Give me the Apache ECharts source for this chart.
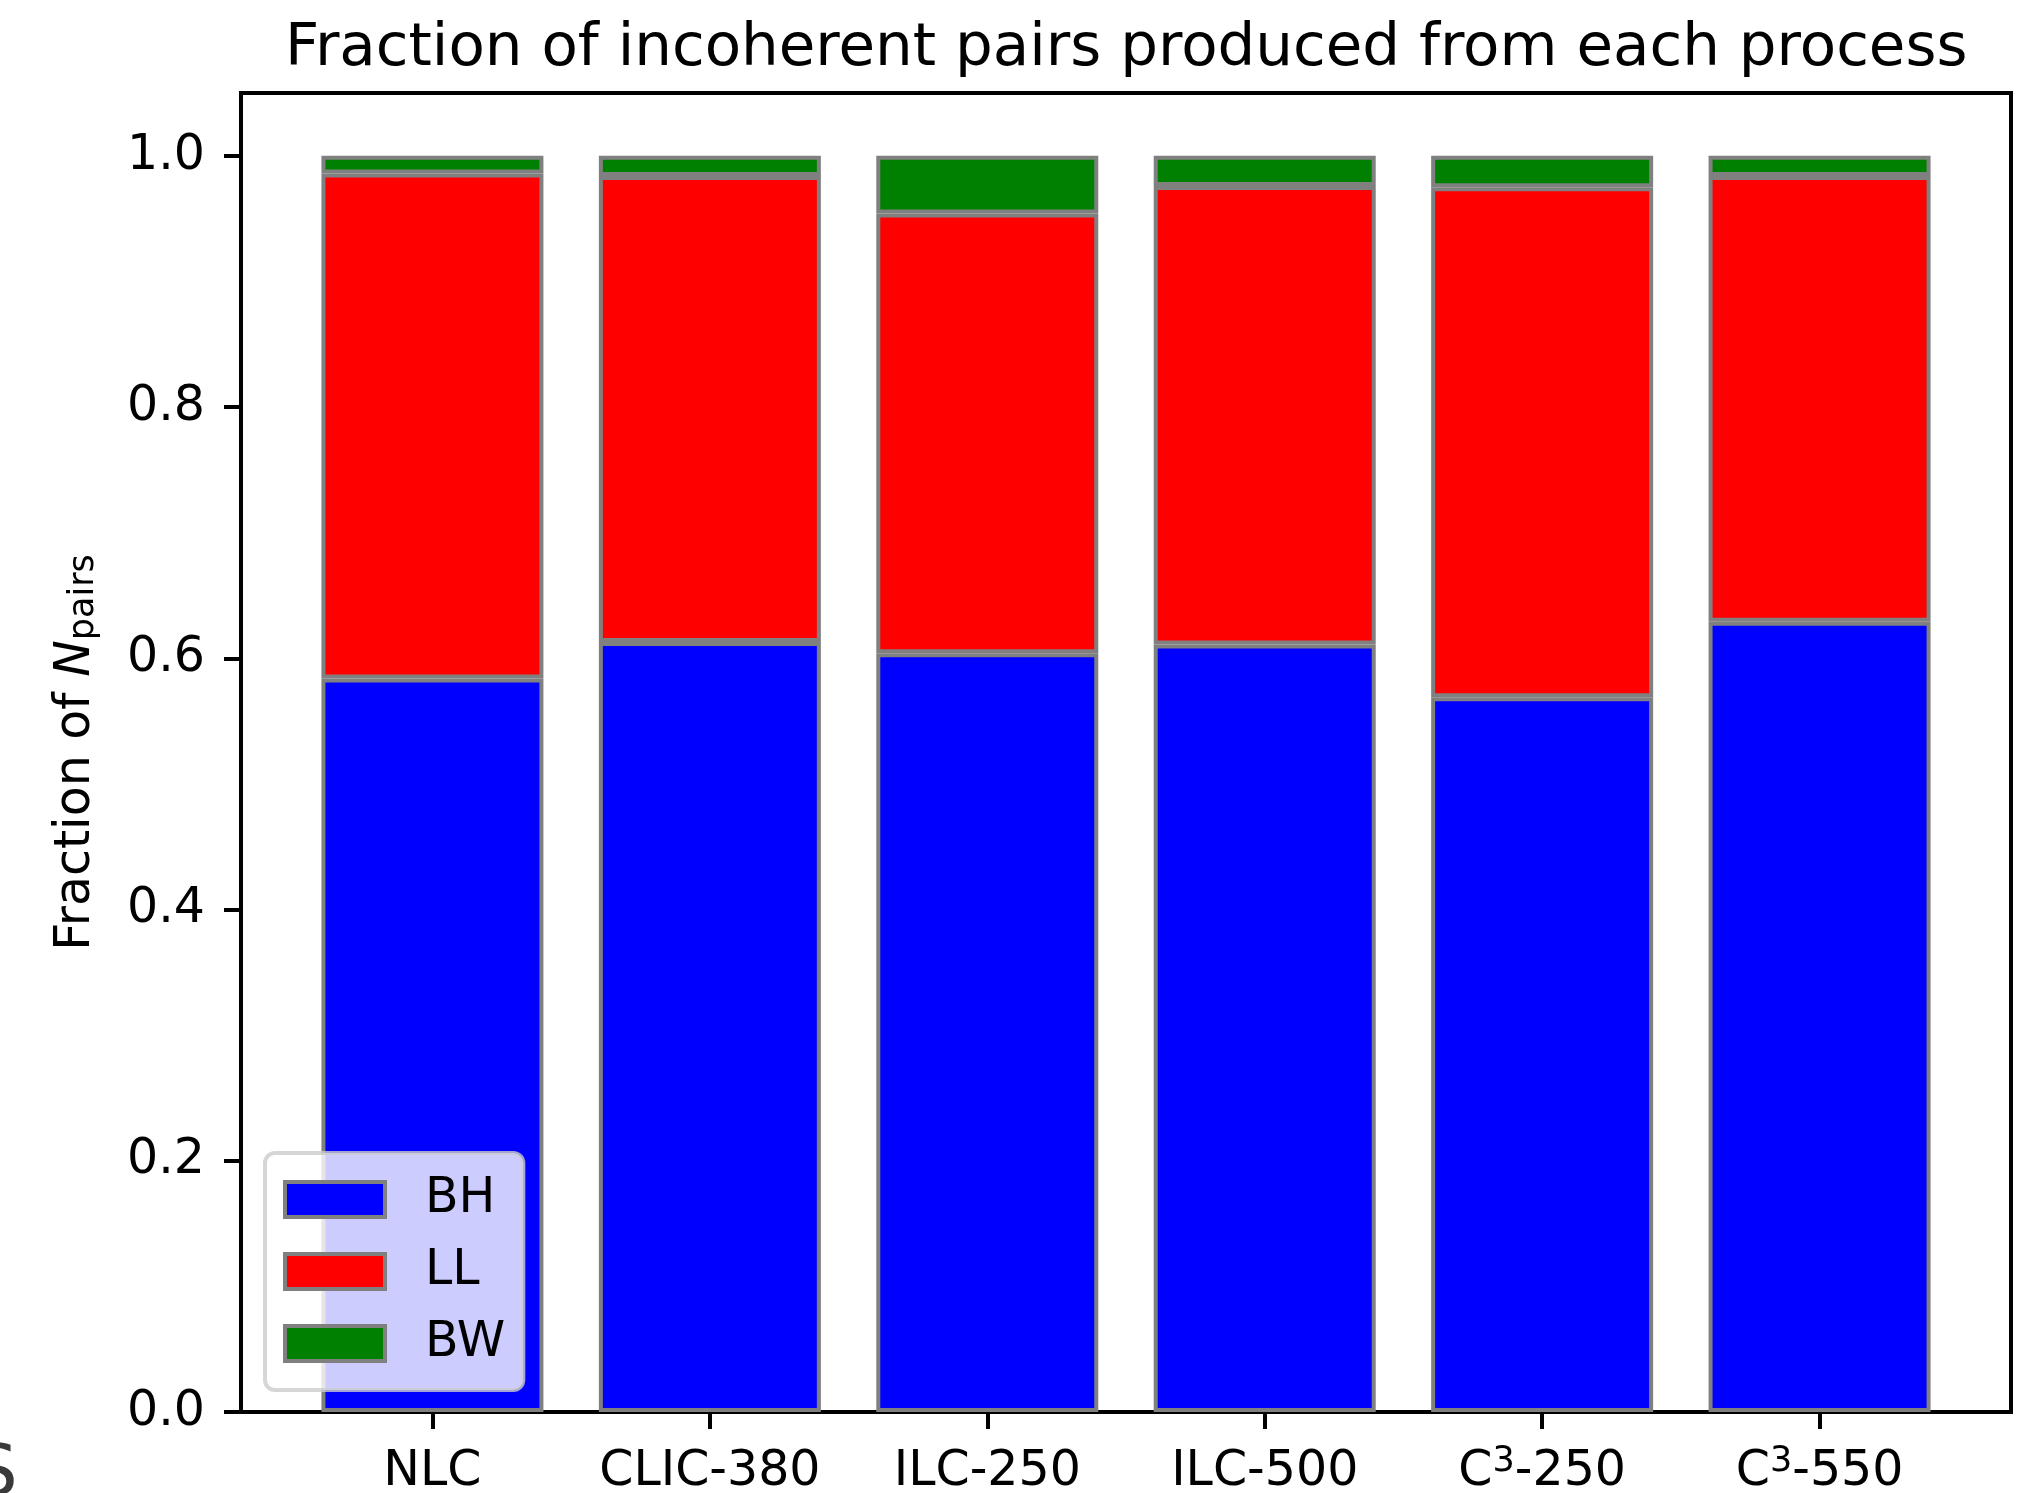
<!DOCTYPE html>
<html>
<head>
<meta charset="utf-8">
<script src="https://cdn.jsdelivr.net/npm/echarts@6/dist/echarts.min.js"></script>
<style>
html,body{margin:0;padding:0;background:#fff;}
#chart{width:2029px;height:1493px;}
</style>
</head>
<body>
<div id="chart"></div>
<script>
const categories = ['NLC', 'CLIC-380', 'ILC-250', 'ILC-500', 'C3-250', 'C3-550'];
const bhValues = [0.584, 0.613, 0.604, 0.611, 0.569, 0.629];
const llValues = [0.402, 0.371, 0.350, 0.365, 0.406, 0.355];
const bwValues = [0.014, 0.016, 0.046, 0.024, 0.025, 0.016];
const yTicks = [0, 0.2, 0.4, 0.6, 0.8, 1.0];

const FONT = 'DejaVu Sans';
const xIdx = categories.map((c, i) => i);
// value first, position second (so the value dimension is the stacked one)
const toPairs = arr => arr.map((v, i) => [v, i]);

function labelRich(name) {
  const m = name.match(/^C3(-.*)$/);
  if (m) return '{t|C}{sup|3}{t|' + m[1] + '}';
  return '{t|' + name + '}';
}

const chart = echarts.init(document.getElementById('chart'));
const edge = {borderColor: '#808080', borderWidth: 4};

function barSeries(name, values, color) {
  return {
    name: name,
    type: 'bar',
    stack: 'total',
    barWidth: 222,
    encode: {x: 1, y: 0},
    data: toPairs(values),
    itemStyle: Object.assign({color: color}, edge),
    emphasis: {disabled: true}
  };
}

chart.setOption({
  animation: false,
  backgroundColor: '#ffffff',
  title: {
    text: 'Fraction of incoherent pairs produced from each process',
    left: 285,
    top: 20,
    padding: 0,
    textStyle: {fontFamily: FONT, fontSize: 59.5, fontWeight: 'normal', color: '#000'}
  },
  grid: {
    left: 241, right: 18, top: 93, bottom: 81,
    containLabel: false,
    outerBoundsMode: 'none',
    show: true, borderColor: '#000', borderWidth: 4, backgroundColor: 'transparent'
  },
  legend: {
    orient: 'vertical',
    left: 265,
    top: 1153,
    padding: [22, 18, 22, 18],
    itemWidth: 100,
    itemHeight: 35,
    itemGap: 23,
    backgroundColor: 'rgba(255,255,255,0.8)',
    borderColor: 'rgba(204,204,204,0.8)',
    borderWidth: 4,
    borderRadius: 10,
    icon: 'rect',
    itemStyle: {borderColor: '#808080', borderWidth: 4},
    textStyle: {fontFamily: FONT, fontSize: 49, color: '#000', lineHeight: 38, padding: [0, 0, 0, 35]},
    data: ['BH', 'LL', 'BW']
  },
  xAxis: {
    type: 'value',
    min: -0.69,
    max: 5.69,
    splitLine: {show: false},
    axisLine: {show: true, onZero: false, lineStyle: {color: '#000', width: 4}},
    axisTick: {show: true, inside: false, length: 17, customValues: xIdx, lineStyle: {color: '#000', width: 4}},
    axisLabel: {
      show: true, margin: 27, customValues: xIdx,
      fontFamily: FONT, fontSize: 49, color: '#000',
      formatter: v => labelRich(categories[Math.round(v)]),
      rich: {
        t: {fontFamily: FONT, fontSize: 49, color: '#000', lineHeight: 58, verticalAlign: 'bottom'},
        sup: {fontFamily: FONT, fontSize: 35, color: '#000', lineHeight: 58, verticalAlign: 'bottom', padding: [0, 0, 18, 0]}
      }
    }
  },
  yAxis: {
    type: 'value',
    min: 0,
    max: 1.05,
    splitLine: {show: false},
    axisLine: {show: true, onZero: false, lineStyle: {color: '#000', width: 4}},
    axisTick: {show: true, inside: false, length: 17, customValues: yTicks, lineStyle: {color: '#000', width: 4}},
    axisLabel: {
      show: true, margin: 36, customValues: yTicks,
      fontFamily: FONT, fontSize: 49, color: '#000',
      formatter: v => v.toFixed(1)
    },
    name: '{a|Fraction of }{i|N}{s|pairs}',
    nameLocation: 'middle',
    nameGap: 140,
    nameTextStyle: {
      fontFamily: FONT, fontSize: 49, color: '#000',
      rich: {
        a: {fontFamily: FONT, fontSize: 49, color: '#000', verticalAlign: 'bottom', lineHeight: 60},
        i: {fontFamily: FONT, fontSize: 49, color: '#000', fontStyle: 'italic', verticalAlign: 'bottom', lineHeight: 60},
        s: {fontFamily: FONT, fontSize: 35, color: '#000', verticalAlign: 'bottom', lineHeight: 60, padding: [14, 0, 0, 0]}
      }
    }
  },
  graphic: [{
    type: 'text',
    left: -28,
    top: 1440,
    style: {text: 'S', fontFamily: FONT, fontSize: 72, fill: '#3a3a3a'},
    silent: true
  }],
  series: [
    barSeries('BH', bhValues, '#0000ff'),
    barSeries('LL', llValues, '#ff0000'),
    barSeries('BW', bwValues, '#008000')
  ]
});
</script>
</body>
</html>
